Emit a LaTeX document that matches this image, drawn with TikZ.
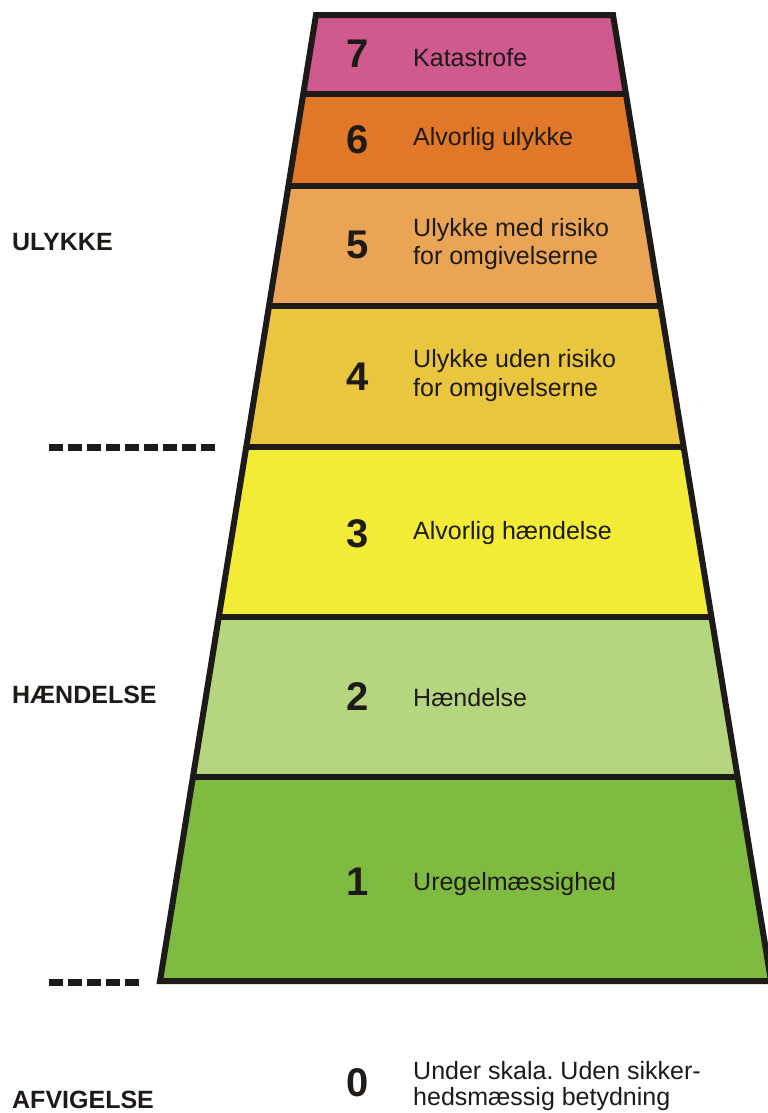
\documentclass[tikz,border=0pt]{standalone}
\usepackage{fontspec}
\setmainfont{Liberation Sans}
\frenchspacing
\definecolor{c7}{HTML}{CF5A8E}
\definecolor{c6}{HTML}{E07828}
\definecolor{c5}{HTML}{E9A455}
\definecolor{c4}{HTML}{EAC63F}
\definecolor{c3}{HTML}{F2EC36}
\definecolor{c2}{HTML}{B5D57E}
\definecolor{c1}{HTML}{80BB41}
\definecolor{ink}{HTML}{1E1A17}
\begin{document}
\begin{tikzpicture}[x=1bp,y=-1bp,
  outline/.style={draw=ink,line width=6bp,line join=miter},
  divider/.style={draw=ink,line width=6bp},
  dashline/.style={draw=ink,line width=7bp,dash pattern=on 14bp off 5bp},
  num/.style={inner sep=0pt,text=ink,font=\fontsize{40bp}{42bp}\selectfont\bfseries},
  lbl/.style={inner sep=0pt,anchor=base west,text=ink,font=\fontsize{25bp}{28bp}\selectfont},
  cat/.style={inner sep=0pt,anchor=base west,text=ink,font=\fontsize{25bp}{28bp}\selectfont\bfseries}]
\fill[white] (0,0) rectangle (768,1113);
\useasboundingbox (0,0) rectangle (768,1113);
\coordinate (TL) at (316,15);
\coordinate (TR) at (613,15);
\coordinate (BR) at (771,981);
\coordinate (BL) at (160,981);
\begin{scope}
  \clip (TL)--(TR)--(BR)--(BL)--cycle;
  \fill[c7] (0,0) rectangle (800,93.5);
  \fill[c6] (0,93.5) rectangle (800,185.5);
  \fill[c5] (0,185.5) rectangle (800,306);
  \fill[c4] (0,306) rectangle (800,447);
  \fill[c3] (0,447) rectangle (800,617);
  \fill[c2] (0,617) rectangle (800,777);
  \fill[c1] (0,777) rectangle (800,990);
  \draw[divider] (0,93.5) -- (800,93.5);
  \draw[divider] (0,185.5) -- (800,185.5);
  \draw[divider] (0,306) -- (800,306);
  \draw[divider] (0,447) -- (800,447);
  \draw[divider] (0,617) -- (800,617);
  \draw[divider] (0,777) -- (800,777);
\end{scope}
\draw[outline] (TL)--(TR)--(BR)--(BL)--cycle;
% dashed markers
\coordinate (d1a) at (49,447);
\coordinate (d1b) at (218,447);
\coordinate (d2a) at (49,982);
\coordinate (d2b) at (140,982);
\draw[dashline] (d1a) -- (d1b);
\draw[dashline] (d2a) -- (d2b);
% numbers
\node[num] (n7) at (358,54) {7};
\node[num] (n6) at (358,139.5) {6};
\node[num] (n5) at (358,245) {5};
\node[num] (n4) at (358,377) {4};
\node[num] (n3) at (358,533.5) {3};
\node[num] (n2) at (358,697) {2};
\node[num] (n1) at (358,882) {1};
\node[num] (n0) at (358,1083) {0};
% labels
\node[lbl] (t7) at (413,66) {Katastrofe};
\node[lbl] (t6) at (413,145) {Alvorlig ulykke};
\node[lbl] (t5a) at (413,236) {Ulykke med risiko};
\node[lbl] (t5b) at (413,264) {for omgivelserne};
\node[lbl] (t4a) at (413,367) {Ulykke uden risiko};
\node[lbl] (t4b) at (413,396) {for omgivelserne};
\node[lbl] (t3) at (413,539) {Alvorlig hændelse};
\node[lbl] (t2) at (413,706) {Hændelse};
\node[lbl] (t1) at (413,890) {Uregelmæssighed};
\node[lbl] (t0a) at (413,1079) {Under skala. Uden sikker-};
\node[lbl] (t0b) at (413,1105) {hedsmæssig betydning};
% categories
\node[cat] (ulykke) at (12,250) {ULYKKE};
\node[cat] (haendelse) at (12,703) {HÆNDELSE};
\node[cat] (afvigelse) at (12,1108) {AFVIGELSE};
\end{tikzpicture}
\end{document}
